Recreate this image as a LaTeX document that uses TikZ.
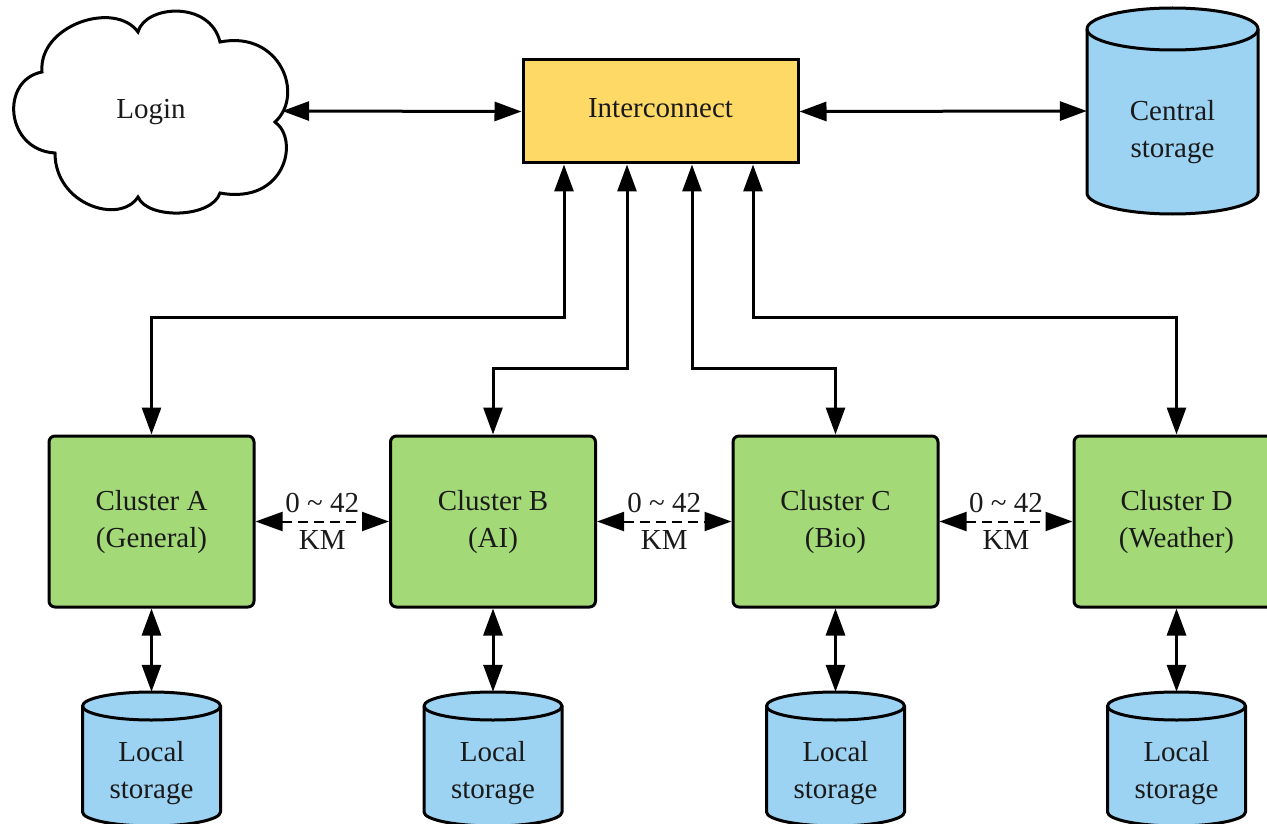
\documentclass[tikz,border=0pt]{standalone}
\usepackage{fontspec}
\setmainfont{Liberation Serif}
\usetikzlibrary{arrows.meta,calc}
\definecolor{icyellow}{HTML}{FFD966}
\definecolor{clgreen}{HTML}{A3D977}
\definecolor{stblue}{HTML}{9CD2F2}
\definecolor{txt}{HTML}{1A1A1A}
\newcommand\bodyfont{\fontsize{29}{37}\selectfont\color{txt}}
\newcommand\mycyl[5]{% cx, ytop, ybot, rx, ry
  \path[fill=stblue,draw=black,line width=3pt]
    ({#1-#4},#2) -- ({#1-#4},#3)
    arc[start angle=180,end angle=360,x radius=#4pt,y radius=#5pt]
    -- ({#1+#4},#2)
    arc[start angle=0,end angle=180,x radius=#4pt,y radius=#5pt] -- cycle;
  \draw[line width=3pt] ({#1-#4},#2)
    arc[start angle=180,end angle=360,x radius=#4pt,y radius=#5pt];
}
\tikzset{
  txtnode/.style={font=\bodyfont,align=center,inner sep=0pt},
  icbox/.style={draw=black,line width=3pt,fill=icyellow,font=\bodyfont,
    minimum width=275pt,minimum height=103pt,inner sep=0pt},
  cluster/.style={draw=black,line width=3pt,fill=clgreen,rounded corners=6pt,
    font=\bodyfont,align=center,minimum width=205pt,minimum height=171pt,inner sep=0pt},
  tip/.tip={Triangle[length=27pt,width=19pt]},
  arr/.style={line width=3pt,tip-tip},
  darr/.style={line width=2pt,dash pattern=on 10pt off 6pt,tip-tip},
}
\begin{document}
\begin{tikzpicture}[x=1pt,y=-1pt]
\useasboundingbox (0,0) rectangle (1267,824);
\clip (0,0) rectangle (1267,824);
% cloud
\draw[line width=3pt,fill=white]
  (42,72) .. controls (38,25) and (115,0) .. (138,32)
  .. controls (145,5) and (210,0) .. (220,42)
  .. controls (280,30) and (305,95) .. (275,122)
  .. controls (300,140) and (285,205) .. (220,193)
  .. controls (212,218) and (148,220) .. (138,197)
  .. controls (120,225) and (55,205) .. (55,153)
  .. controls (5,150) and (0,80) .. (42,72) -- cycle;
\node[txtnode,minimum width=268pt,minimum height=200pt] (login) at (148,111) {};
\node[txtnode] (logintext) at (151,112) {Login};
% interconnect
\node[icbox] (ic) at (660.5,111.5) {};
\node[txtnode] (ictext) at (660.5,108.5) {Interconnect};
% central storage
\mycyl{1172.5}{29}{193}{85.5}{21}
\node[txtnode,minimum width=171pt,minimum height=206pt] (cs) at (1172.5,111) {};
\node[txtnode] (cstext) at (1172.5,132) {Central\\storage};
% clusters
\node[cluster] (cA) at (151.5,521.5) {};
\node[cluster] (cB) at (493,521.5) {};
\node[cluster] (cC) at (835.5,521.5) {};
\node[cluster] (cD) at (1176.5,521.5) {};
\node[txtnode] at (151.5,522.5) {Cluster A\\(General)};
\node[txtnode] at (493,522.5) {Cluster B\\(AI)};
\node[txtnode] at (835.5,522.5) {Cluster C\\(Bio)};
\node[txtnode] at (1176.5,522.5) {Cluster D\\(Weather)};
% local storages
\foreach \n/\cx in {A/151.5,B/493,C/835.5,D/1176.5}{
  \mycyl{\cx}{706}{812}{69}{14}
  \node[txtnode,minimum width=138pt,minimum height=134pt] (ls\n) at (\cx,759) {};
  \node[txtnode] (ls\n text) at (\cx,773.5) {Local\\storage};
}
% connectors
\draw[arr] (login.east) -- (ic.west);
\draw[arr] (ic.east) -- (cs.west);
\coordinate (jA) at (151.5,317);
\coordinate (jB) at (493,368);
\coordinate (jC) at (835.5,368);
\coordinate (jD) at (1176.5,317);
\draw[arr] ([xshift=-96.5pt]ic.south) |- (jA) -- (cA.north);
\draw[arr] ([xshift=-33.5pt]ic.south) |- (jB) -- (cB.north);
\draw[arr] ([xshift=31.5pt]ic.south) |- (jC) -- (cC.north);
\draw[arr] ([xshift=92.5pt]ic.south) |- (jD) -- (cD.north);
\foreach \n in {A,B,C,D}{
  \draw[arr] (c\n.south) -- (ls\n.north);
}
\foreach \a/\b in {A/B,B/C,C/D}{
  \draw[darr] (c\a.east) -- node[txtnode] {0 \textasciitilde{} 42\\KM} (c\b.west);
}
\end{tikzpicture}
\end{document}
